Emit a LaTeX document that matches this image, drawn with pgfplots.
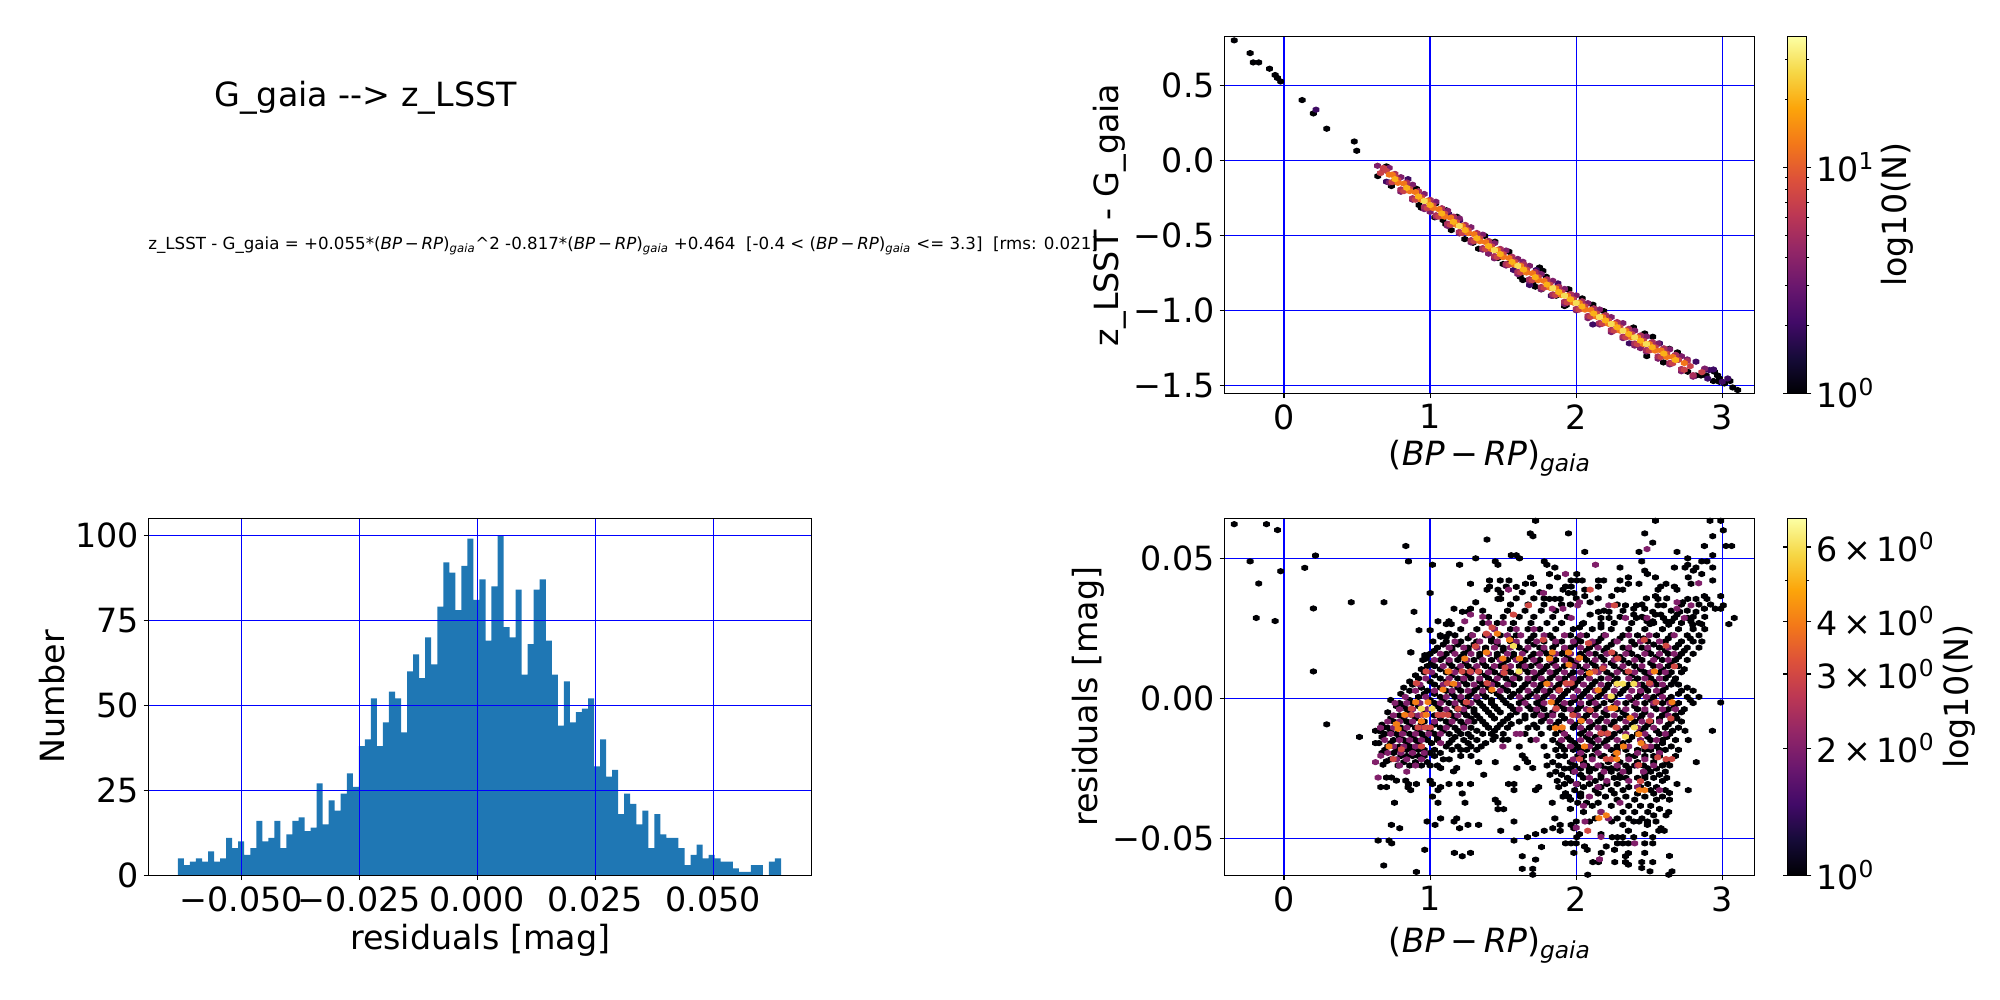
\documentclass[border=0pt]{standalone}
\usepackage{fontspec}
\setmainfont{DejaVu Sans}
\usepackage{pgfplots}
\pgfplotsset{compat=1.18}
\newcommand\bigf{\fontsize{24bp}{28bp}\selectfont}
\pgfdeclareplotmark{hex}{%
\pgfsetlinewidth{.7bp}\pgfsetroundjoin
\pgfpathmoveto{\pgfpoint{2.1bp}{-1bp}}\pgfpathlineto{\pgfpoint{2.1bp}{1bp}}\pgfpathlineto{\pgfpoint{0bp}{1.9bp}}%
\pgfpathlineto{\pgfpoint{-2.1bp}{1bp}}\pgfpathlineto{\pgfpoint{-2.1bp}{-1bp}}\pgfpathlineto{\pgfpoint{0bp}{-1.9bp}}%
\pgfpathclose\pgfusepathqfillstroke}
\pgfplotsset{
colormap={inferno}{rgb255=(0,0,4) rgb255=(22,11,57) rgb255=(66,10,104) rgb255=(106,23,110) rgb255=(147,38,103) rgb255=(188,55,84) rgb255=(221,81,58) rgb255=(243,120,25) rgb255=(252,165,10) rgb255=(246,215,70) rgb255=(252,255,164)},
common/.style={scale only axis,anchor=south west,axis on top,axis line style={line width=.8bp},
 tick align=outside,tick pos=left,major tick length=3.5bp,every tick/.style={line width=.8bp,black},
 grid=major,grid style={line width=1bp,blue},tick label style={font=\bigf},
 xticklabel style={yshift=-1bp}},
hexs/.style={scatter,only marks,mark=hex,scatter/use mapped color={draw=mapped color,fill=mapped color}},
}
\begin{document}
\begin{tikzpicture}
\useasboundingbox (0,0) rectangle (1440bp,720bp);
\node[anchor=base west,font=\bigf,inner sep=0] at (154.2bp,643.2bp) {G\_gaia -{}-> z\_LSST};
\node[anchor=base west,font=\fontsize{12bp}{14bp}\selectfont,inner sep=0] at (106.6bp,540.4bp) {z\_LSST - G\_gaia = +0.055*(\textit{BP}\,−\,\textit{RP})\textsubscript{\textit{gaia}}\textasciicircum 2 -0.817*(\textit{BP}\,−\,\textit{RP})\textsubscript{\textit{gaia}} +0.464\ \ [-0.4 < (\textit{BP}\,−\,\textit{RP})\textsubscript{\textit{gaia}} <= 3.3]\ \ [rms: 0.021]};
% histogram
\begin{axis}[common,at={(106.85bp,89.8bp)},width=477.7bp,height=257.04bp,xmin=-0.0697,xmax=0.07085,ymin=0,ymax=105,
 xtick={-0.05,-0.025,0,0.025,0.05},xticklabels={−0.050,−0.025,0.000,0.025,0.050},ytick={0,25,50,75,100},yticklabels={0,25,50,75,100},
 scaled x ticks=false,xlabel={residuals [mag]},ylabel={Number},
 every axis x label/.style={at={(axis description cs:0.5,-0.181)},anchor=center,font=\bigf},
 every axis y label/.style={at={(axis description cs:-0.1453,0.5)},anchor=center,rotate=90,font=\bigf}]
\addplot[ybar interval,draw=none,fill={rgb,255:red,31;green,119;blue,180}] table {
-0.06345 5
-0.06217 3
-0.06090 4
-0.05962 5
-0.05834 4
-0.05706 7
-0.05579 4
-0.05451 5
-0.05323 11
-0.05195 8
-0.05068 10
-0.04940 6
-0.04812 8
-0.04684 16
-0.04556 10
-0.04429 11
-0.04301 16
-0.04173 8
-0.04045 12
-0.03918 16
-0.03790 17
-0.03662 13
-0.03534 14
-0.03407 27
-0.03279 15
-0.03151 22
-0.03023 19
-0.02896 24
-0.02768 30
-0.02640 26
-0.02512 38
-0.02385 40
-0.02257 52
-0.02129 38
-0.02001 45
-0.01874 54
-0.01746 52
-0.01618 42
-0.01490 60
-0.01362 65
-0.01235 58
-0.01107 70
-0.00979 62
-0.00851 79
-0.00724 92
-0.00596 89
-0.00468 78
-0.00340 91
-0.00213 99
-0.00085 81
0.00043 87
0.00171 69
0.00298 85
0.00426 100
0.00554 73
0.00682 70
0.00809 84
0.00937 59
0.01065 68
0.01193 84
0.01320 87
0.01448 69
0.01576 59
0.01704 44
0.01832 57
0.01959 45
0.02087 48
0.02215 49
0.02343 52
0.02470 32
0.02598 40
0.02726 29
0.02854 31
0.02981 18
0.03109 24
0.03237 21
0.03365 15
0.03492 19
0.03620 8
0.03748 18
0.03876 12
0.04004 11
0.04131 11
0.04259 8
0.04387 3
0.04515 6
0.04642 9
0.04770 5
0.04898 6
0.05026 5
0.05153 4
0.05281 4
0.05409 2
0.05537 1
0.05664 1
0.05792 3
0.05920 3
0.06048 0
0.06175 4
0.06303 5
0.06431 5
};
\end{axis}
% top right
\begin{axis}[common,at={(881.7bp,436.8bp)},width=381.8bp,height=257.04bp,xmin=-0.4067,xmax=3.2229,ymin=-1.553,ymax=0.827,
 xtick={0,1,2,3},xticklabels={0,1,2,3},ytick={-1.5,-1,-0.5,0,0.5},yticklabels={−1.5,−1.0,−0.5,0.0,0.5},
 xlabel={(\textit{BP}\,−\,\textit{RP})\textsubscript{\textit{gaia}}},ylabel={z\_LSST - G\_gaia},
 every axis x label/.style={at={(axis description cs:0.5,-0.181)},anchor=center,font=\bigf},
 every axis y label/.style={at={(axis description cs:-0.2158,0.5)},anchor=center,rotate=90,font=\bigf},
 point meta min=0,point meta max=1.58,colormap name=inferno,colorbar,
 colorbar style={at={(1.0623,1)},anchor=north west,width=13.4bp,ytick={0,1},yticklabels={10\textsuperscript{0},10\textsuperscript{1}},
  minor ytick={0.301,0.477,0.602,0.699,0.778,0.845,0.903,0.954,1.301,1.477},tick align=outside,major tick length=3.5bp,minor tick length=2bp,
  yticklabel style={font=\bigf},ylabel={log10(N)},
  every axis y label/.style={at={(axis description cs:5.9,0.5)},anchor=center,rotate=90,font=\bigf},axis line style={line width=.8bp},every tick/.style={line width=.8bp,black},grid=none}]
\addplot[hexs,point meta=0] table {
-.341 .80
-.232 .715
-.211 .653
-.173 .653
-.099 .611
-.061 .569
-.044 .549
-.023 .526
.124 .402
.201 .313
.292 .211
.481 .126
.498 .064
.701 -.040
.642 -.105
.735 -.171
.906 -.189
.924 -.298
.940 -.316
1.038 -.287
1.032 -.380
1.111 -.333
1.088 -.398
1.107 -.425
1.184 -.376
1.145 -.465
1.237 -.525
1.294 -.549
1.373 -.503
1.332 -.589
1.444 -.542
1.540 -.609
1.464 -.651
1.499 -.691
1.533 -.691
1.617 -.776
1.635 -.798
1.704 -.820
1.720 -.842
1.749 -.714
1.772 -.736
1.795 -.776
1.761 -.860
1.863 -.902
1.943 -.860
1.931 -.965
1.950 -.860
2.041 -.920
2.114 -.962
2.189 -1.005
1.920 -.971
2.392 -1.114
2.469 -1.154
2.524 -1.176
2.483 -1.305
2.638 -1.256
2.693 -1.280
2.597 -1.347
2.763 -1.409
2.820 -1.434
2.854 -1.434
2.889 -1.434
2.946 -1.409
2.968 -1.434
2.980 -1.454
2.939 -1.471
2.980 -1.476
3.014 -1.487
3.053 -1.471
3.071 -1.514
3.105 -1.531
};
\addplot[hexs,point meta=0.301] table {
.219 .338
.849 -.125
.849 -.165
.701 -.142
1.127 -.358
1.202 -.400
1.875 -.820
1.829 -.902
1.571 -.731
1.726 -.731
1.681 -.831
2.114 -1.094
2.228 -1.049
2.364 -1.220
2.570 -1.220
2.820 -1.342
2.911 -1.398
2.939 -1.394
3.037 -1.454
3.000 -1.476
2.88 -1.394
2.90 -1.455
};
\addplot[hexs,point meta=0.55] table {
.64 -.036
.68 -.066
.72 -.148
.80 -.112
.88 -.262
.96 -.224
1.04 -.376
1.12 -.336
1.20 -.487
1.28 -.446
1.36 -.595
1.44 -.552
1.52 -.701
1.60 -.657
1.635 -.676
1.68 -.803
1.76 -.758
1.84 -.903
1.92 -.857
2.00 -1.000
2.08 -.952
2.16 -1.094
2.24 -1.045
2.32 -1.185
2.40 -1.135
2.48 -1.274
2.56 -1.222
2.64 -1.360
2.72 -1.306
2.80 -1.442
2.88 -1.388
1.00 -.343
1.40 -.622
2.44 -1.252
2.76 -1.327
.72 -.050
.88 -.162
1.04 -.276
1.20 -.387
1.36 -.495
1.52 -.601
1.68 -.703
1.84 -.803
2.00 -.900
2.16 -.994
2.32 -1.085
2.48 -1.174
2.64 -1.260
.80 -.209
.96 -.325
1.12 -.437
1.28 -.547
1.44 -.653
1.60 -.758
1.76 -.859
1.92 -.957
2.08 -1.052
2.24 -1.145
2.40 -1.235
2.56 -1.322
2.72 -1.406
};
\addplot[hexs,point meta=0.72] table {
.76 -.090
.84 -.148
.92 -.206
1.00 -.263
1.08 -.319
1.16 -.375
1.24 -.430
1.32 -.484
1.40 -.537
1.48 -.590
1.56 -.642
1.64 -.693
1.72 -.744
1.80 -.793
1.88 -.843
1.96 -.891
2.04 -.939
2.12 -.986
2.20 -1.032
2.28 -1.078
2.36 -1.123
2.44 -1.167
2.52 -1.211
2.60 -1.253
2.68 -1.296
2.76 -1.337
.80 -.194
.88 -.252
.96 -.310
1.04 -.366
1.12 -.422
1.20 -.477
1.28 -.532
1.36 -.585
1.44 -.638
1.52 -.691
1.60 -.743
1.68 -.793
1.76 -.844
1.84 -.893
1.92 -.942
2.00 -.990
2.08 -1.037
2.16 -1.084
2.24 -1.130
2.32 -1.175
2.40 -1.220
2.48 -1.264
2.56 -1.307
2.64 -1.350
2.72 -1.391
2.80 -1.432
};
\addplot[hexs,point meta=0.85] table {
.70 -.070
.78 -.130
.86 -.190
.94 -.245
1.02 -.300
1.10 -.355
1.18 -.411
1.26 -.465
1.34 -.519
1.42 -.572
1.50 -.624
1.58 -.676
1.66 -.728
1.74 -.778
1.82 -.828
1.90 -.878
1.98 -.925
2.06 -.973
2.14 -1.020
2.22 -1.067
2.30 -1.113
2.38 -1.157
2.46 -1.202
2.54 -1.245
2.62 -1.288
2.70 -1.330
2.78 -1.372
2.86 -1.412
2.74 -1.396
2.66 -1.353
2.58 -1.311
2.50 -1.268
2.42 -1.225
2.34 -1.180
2.26 -1.135
2.18 -1.089
2.10 -1.042
2.02 -.995
1.94 -.948
1.86 -.898
1.78 -.849
1.70 -.799
1.62 -.748
1.54 -.696
1.46 -.645
1.38 -.592
1.30 -.539
1.22 -.485
1.14 -.430
1.06 -.375
.98 -.320
.90 -.262
.82 -.205
.74 -.145
.66 -.085
.68 -.050
.76 -.110
};
\addplot[hexs,point meta=1.1] table {
.74 -.095
.82 -.155
.90 -.212
.98 -.270
1.06 -.326
1.14 -.382
1.22 -.437
1.30 -.492
1.38 -.545
1.46 -.598
1.54 -.651
1.62 -.703
1.70 -.753
1.78 -.804
1.86 -.853
1.94 -.902
2.02 -.950
2.10 -.997
2.18 -1.044
2.26 -1.090
2.34 -1.135
2.42 -1.180
2.50 -1.224
2.58 -1.267
2.66 -1.310
2.74 -1.351
.72 -.095
.78 -.150
.86 -.205
.94 -.262
1.02 -.318
1.10 -.375
1.18 -.430
1.26 -.485
1.34 -.539
1.42 -.592
1.50 -.645
1.58 -.696
1.66 -.748
1.74 -.799
1.82 -.849
1.90 -.898
1.98 -.948
2.06 -.995
2.14 -1.042
2.22 -1.089
2.30 -1.135
2.38 -1.180
2.46 -1.225
2.54 -1.268
2.62 -1.311
};
\addplot[hexs,point meta=1.3] table {
.76 -.125
.84 -.183
.92 -.241
1.00 -.298
1.08 -.354
1.16 -.410
1.24 -.465
1.32 -.519
1.40 -.572
1.48 -.625
1.56 -.677
1.64 -.728
1.72 -.779
1.80 -.828
1.88 -.878
1.96 -.926
2.04 -.974
2.12 -1.021
2.20 -1.067
2.28 -1.113
2.36 -1.158
2.44 -1.202
2.52 -1.246
2.60 -1.288
2.68 -1.331
};
\addplot[hexs,point meta=1.45] table {
.96 -.270
1.20 -.437
1.44 -.598
1.60 -.703
1.84 -.853
1.92 -.902
2.00 -.950
2.16 -1.044
2.24 -1.090
2.32 -1.135
2.40 -1.180
2.48 -1.224
};
\end{axis}
% bottom right
\begin{axis}[common,at={(881.7bp,89.8bp)},width=381.8bp,height=257.04bp,xmin=-0.4067,xmax=3.2229,ymin=-0.0632,ymax=0.0643,
 xtick={0,1,2,3},xticklabels={0,1,2,3},ytick={-0.05,0,0.05},yticklabels={−0.05,0.00,0.05},scaled y ticks=false,
 xlabel={(\textit{BP}\,−\,\textit{RP})\textsubscript{\textit{gaia}}},ylabel={residuals [mag]},
 every axis x label/.style={at={(axis description cs:0.5,-0.196)},anchor=center,font=\bigf},
 every axis y label/.style={at={(axis description cs:-0.257,0.5)},anchor=center,rotate=90,font=\bigf},
 point meta min=0,point meta max=0.846,colormap name=inferno,colorbar,
 colorbar style={at={(1.0623,1)},anchor=north west,width=13.4bp,ytick={0,0.301,0.477,0.602,0.778},
  yticklabels={10\textsuperscript{0},2\,×\,10\textsuperscript{0},3\,×\,10\textsuperscript{0},4\,×\,10\textsuperscript{0},6\,×\,10\textsuperscript{0}},
  minor ytick={0.699},tick align=outside,major tick length=3.5bp,minor tick length=2bp,
  yticklabel style={font=\bigf},ylabel={log10(N)},
  every axis y label/.style={at={(axis description cs:9.2,0.5)},anchor=center,rotate=90,font=\bigf},axis line style={line width=.8bp},every tick/.style={line width=.8bp,black},grid=none}]
\addplot[hexs,point meta=0] table {
-.341 .0622
-.120 .0622
-.044 .0601
-.232 .0489
.215 .0510
-.023 .0454
.142 .0466
-.173 .0410
-.190 .0287
-.061 .0276
.201 .0321
.460 .0343
.684 .0343
.201 .0096
.292 -.0093
.516 -.0138
.834 .0544
.852 .0489
.890 .0309
.869 .0164
1.000 .0376
1.389 .0567
1.016 .0477
1.202 .0477
1.312 .0500
1.446 .0489
1.464 .0477
1.555 .0511
1.590 .0511
1.612 .0500
1.685 .0589
1.704 .0579
1.722 .0634
1.277 .0409
1.407 .0421
1.687 .0432
1.653 .0409
1.708 .0409
1.407 .0399
1.389 .0388
1.464 .0388
1.521 .0399
1.483 .0376
1.483 .0355
1.464 .0355
1.312 .0343
1.163 .0320
1.221 .0309
1.259 .0309
1.277 .0320
1.054 .0275
1.111 .0265
1.129 .0275
1.145 .0265
.924 .0243
1.000 .0243
.867 .0164
.963 .0154
.981 .0154
.974 .0142
1.073 .0220
1.111 .0220
1.129 .0231
1.947 .0589
2.059 .0523
2.524 .0556
2.469 .0589
2.430 .0523
2.542 .0634
2.916 .0634
2.989 .0634
3.007 .0600
2.934 .0579
2.877 .0544
3.025 .0544
3.064 .0544
2.934 .0511
2.690 .0523
2.763 .0500
2.859 .0489
2.895 .0489
2.449 .0489
2.745 .0467
2.763 .0477
2.672 .0467
2.934 .0467
2.300 .0467
2.469 .0456
2.487 .0444
2.542 .0432
2.820 .0467
2.802 .0456
2.859 .0444
2.934 .0421
2.767 .0432
2.786 .0409
1.781 .0489
1.799 .0477
1.854 .0467
1.817 .0444
1.872 .0432
2.004 .0444
1.965 .0421
2.004 .0421
2.041 .0421
2.152 .0421
2.189 .0421
2.300 .0421
2.357 .0432
2.357 .0409
2.430 .0409
2.615 .0409
2.578 .0399
2.560 .0388
2.152 .0399
1.817 .0399
1.927 .0399
1.909 .0388
1.965 .0399
1.947 .0376
1.984 .0376
2.059 .0388
2.059 .0365
2.282 .0388
2.319 .0388
2.672 .0399
2.690 .0388
2.542 .0365
2.560 .0355
2.243 .0365
2.877 .0365
2.895 .0355
2.989 .0365
1.817 .0355
1.854 .0355
1.890 .0355
2.095 .0343
2.729 .0343
2.763 .0355
2.820 .0355
2.337 .0332
2.412 .0332
2.560 .0332
2.599 .0332
2.394 .0320
2.469 .0320
2.877 .0320
2.952 .0320
3.007 .0332
2.989 .0320
2.152 .0309
2.225 .0309
2.524 .0309
2.542 .0299
2.820 .0309
2.095 .0299
2.225 .0287
2.170 .0287
2.394 .0299
2.412 .0287
2.469 .0287
2.578 .0299
2.597 .0287
2.615 .0275
2.633 .0263
2.654 .0275
2.672 .0287
2.690 .0299
2.708 .0309
3.082 .0287
3.045 .0265
2.763 .0287
2.786 .0275
2.797 .0263
2.859 .0265
2.041 .0265
2.022 .0253
2.170 .0265
2.170 .0253
2.524 .0275
2.485 .0275
2.505 .0265
.626 -.0160
.626 -.0116
.662 -.0116
.681 -.0104
.678 -.0237
.701 -.0225
.769 -.0294
.701 -.0283
.735 -.0283
.662 -.0317
.701 -.0317
.833 -.0294
.851 -.0306
.867 -.0328
.849 -.0318
.906 -.0306
.756 -.0373
.735 -.0452
.792 -.0464
.644 -.0508
.719 -.0508
.737 -.0518
.963 -.0541
.906 -.0620
.683 -.0597
.979 -.0440
1.034 -.0452
1.072 -.0429
1.164 -.0440
1.182 -.0429
1.202 -.0464
1.259 -.0452
1.332 -.0452
1.166 -.0552
1.220 -.0564
1.277 -.0552
1.483 -.0473
1.574 -.0440
1.574 -.0508
1.667 -.0496
1.722 -.0485
1.631 -.0564
1.631 -.0609
1.703 -.0609
1.722 -.0576
1.703 -.0630
1.016 -.0351
1.054 -.0373
1.239 -.0373
1.220 -.0340
1.000 -.0294
1.016 -.0306
1.072 -.0317
1.054 -.0328
1.129 -.0306
1.202 -.0306
1.277 -.0306
1.072 -.0249
1.161 -.0261
1.182 -.0249
1.367 -.0273
1.332 -.0228
1.446 -.0228
1.594 -.0249
1.703 -.0249
1.537 -.0306
1.574 -.0306
1.574 -.0328
1.446 -.0362
1.464 -.0373
1.464 -.0396
1.503 -.0396
1.631 -.0204
1.649 -.0216
1.667 -.0228
1.722 -.0328
1.744 -.0317
1.350 -.0172
1.555 -.0092
1.430 -.0148
1.446 -.0137
1.533 -.0148
1.498 -.0148
2.989 -.0015
2.932 -.0116
2.767 -.0149
2.745 -.0116
2.822 -.0228
2.767 -.0328
2.690 -.0306
2.638 -.0338
2.638 -.0362
2.633 -.0406
2.615 -.0418
2.638 -.0563
2.656 -.0618
2.633 -.0630
1.763 -.0531
1.927 -.0518
1.965 -.0518
2.000 -.0518
1.984 -.0552
1.781 -.0473
1.840 -.0464
1.890 -.0452
1.890 -.0473
1.965 -.0452
1.984 -.0464
2.022 -.0485
2.004 -.0496
1.854 -.0429
1.836 -.0373
1.909 -.0351
1.947 -.0351
1.927 -.0339
2.114 -.0585
2.171 -.0552
2.264 -.0585
2.152 -.0585
2.057 -.0529
2.075 -.0541
2.205 -.0529
2.262 -.0541
2.337 -.0564
2.357 -.0553
2.337 -.0585
2.357 -.0594
2.449 -.0585
2.524 -.0585
2.469 -.0552
2.449 -.0606
2.505 -.0618
2.079 -.0630
2.282 -.0518
2.319 -.0518
2.357 -.0518
2.469 -.0518
2.524 -.0518
2.246 -.0496
2.282 -.0496
2.319 -.0496
2.394 -.0496
2.469 -.0485
2.524 -.0496
2.170 -.0485
2.357 -.0473
2.565 -.0473
2.603 -.0473
2.243 -.0440
2.319 -.0452
2.394 -.0440
2.430 -.0440
2.487 -.0440
2.487 -.0452
2.546 -.0440
2.580 -.0464
2.00 -.0440
2.09 -.0440
2.13 -.0429
2.28 -.0429
2.36 -.0429
2.45 -.0429
2.53 -.0418
2.05 -.0406
2.17 -.0406
2.32 -.0406
2.40 -.0406
2.49 -.0406
2.57 -.0395
1.96 -.0395
2.11 -.0384
2.24 -.0384
2.36 -.0384
2.44 -.0384
2.51 -.0384
2.01 -.0373
2.07 -.0373
2.15 -.0373
2.28 -.0362
2.40 -.0362
2.55 -.0362
1.96 -.0362
2.03 -.0351
2.20 -.0351
2.34 -.0351
2.47 -.0351
2.59 -.0351
1.99 -.0328
2.13 -.0328
2.24 -.0328
2.32 -.0328
2.51 -.0328
2.61 -.0328
1.88 -.0317
2.05 -.0317
2.17 -.0317
2.36 -.0317
2.44 -.0317
2.55 -.0317
1.92 -.0306
2.01 -.0306
2.09 -.0306
2.21 -.0306
2.28 -.0306
2.49 -.0306
2.59 -.0295
1.87 -.0295
1.96 -.0295
2.13 -.0295
2.26 -.0284
2.34 -.0284
2.42 -.0284
2.53 -.0284
2.62 -.0284
1.82 -.0273
1.90 -.0273
2.03 -.0273
2.17 -.0273
2.30 -.0273
2.47 -.0273
2.57 -.0273
1.86 -.0262
1.98 -.0262
2.09 -.0262
2.24 -.0262
2.36 -.0262
2.51 -.0262
2.61 -.0262
1.92 -.0251
2.03 -.0251
2.13 -.0251
2.20 -.0251
2.28 -.0251
2.40 -.0240
2.55 -.0251
2.64 -.0240
1.80 -.0240
1.88 -.0240
1.99 -.0240
2.07 -.0240
2.17 -.0240
2.34 -.0240
2.46 -.0240
2.59 -.0240
.78 -.0240
.86 -.0240
.94 -.0240
1.00 -.0240
1.05 -.0240
.82 -.0228
.90 -.0228
.98 -.0228
1.09 -.0218
1.13 -.0218
1.84 -.0228
1.96 -.0228
2.05 -.0228
2.22 -.0228
2.30 -.0228
2.42 -.0228
2.53 -.0228
2.62 -.0228
.73 -.0218
.80 -.0206
.88 -.0206
.96 -.0206
1.03 -.0206
1.21 -.0206
1.28 -.0206
1.80 -.0206
1.92 -.0206
2.01 -.0206
2.11 -.0206
2.19 -.0206
2.36 -.0206
2.47 -.0206
2.57 -.0206
2.68 -.0206
.67 -.0195
.75 -.0195
.84 -.0184
.92 -.0184
1.00 -.0195
1.07 -.0195
1.15 -.0184
1.25 -.0184
1.32 -.0184
1.86 -.0184
1.98 -.0184
2.07 -.0184
2.24 -.0184
2.34 -.0184
2.42 -.0184
2.51 -.0184
2.61 -.0184
2.70 -.0184
.71 -.0172
.79 -.0172
.86 -.0172
.94 -.0172
1.11 -.0172
1.19 -.0172
1.28 -.0172
1.38 -.0160
1.61 -.0172
1.78 -.0172
1.90 -.0172
2.01 -.0172
2.15 -.0172
2.28 -.0172
2.47 -.0172
2.55 -.0172
2.65 -.0172
.65 -.0160
.75 -.0149
.82 -.0149
.90 -.0149
.98 -.0149
1.05 -.0149
1.15 -.0149
1.23 -.0149
1.32 -.0149
1.69 -.0149
1.84 -.0149
1.96 -.0149
2.09 -.0149
2.21 -.0149
2.36 -.0149
2.51 -.0149
2.59 -.0149
2.68 -.0149
.69 -.0127
.77 -.0127
.86 -.0127
.94 -.0127
1.03 -.0127
1.13 -.0127
1.21 -.0127
1.26 -.0127
1.36 -.0127
1.42 -.0127
1.50 -.0127
1.65 -.0127
1.76 -.0127
1.86 -.0127
2.03 -.0127
2.17 -.0127
2.26 -.0127
2.42 -.0127
2.57 -.0127
2.64 -.0127
.71 -.0105
.80 -.0105
.90 -.0105
.98 -.0105
1.07 -.0105
1.17 -.0105
1.28 -.0105
1.40 -.0105
1.46 -.0105
1.53 -.0105
1.67 -.0105
1.73 -.0105
1.82 -.0105
1.98 -.0105
2.09 -.0105
2.19 -.0105
2.34 -.0105
2.47 -.0105
2.61 -.0105
2.70 -.0105
.75 -.0083
.84 -.0083
.96 -.0083
1.11 -.0083
1.21 -.0083
1.30 -.0083
1.36 -.0083
1.50 -.0083
1.61 -.0083
1.76 -.0083
1.88 -.0083
2.03 -.0083
2.15 -.0083
2.26 -.0083
2.40 -.0083
2.51 -.0083
2.65 -.0083
2.72 -.0083
.79 -.0061
.88 -.0061
1.03 -.0061
1.15 -.0061
1.25 -.0061
1.32 -.0061
1.42 -.0061
1.55 -.0061
1.65 -.0061
1.71 -.0061
1.80 -.0061
1.90 -.0061
2.07 -.0061
2.21 -.0061
2.34 -.0061
2.45 -.0061
2.59 -.0061
2.68 -.0061
.84 -.0039
1.07 -.0039
1.19 -.0039
1.30 -.0039
1.38 -.0039
1.46 -.0039
1.57 -.0039
1.69 -.0039
1.78 -.0039
1.92 -.0039
2.01 -.0039
2.13 -.0039
2.28 -.0039
2.42 -.0039
2.55 -.0039
2.63 -.0039
2.74 -.0039
.79 -.0017
.88 -.0017
1.03 -.0017
1.13 -.0017
1.23 -.0017
1.34 -.0017
1.42 -.0017
1.52 -.0017
1.61 -.0017
1.73 -.0017
1.86 -.0017
1.96 -.0017
2.09 -.0017
2.19 -.0017
2.34 -.0017
2.47 -.0017
2.59 -.0017
2.70 -.0017
2.80 -.0017
.92 .0005
1.07 .0005
1.17 .0005
1.26 .0005
1.38 .0005
1.48 .0005
1.55 .0005
1.67 .0005
1.78 .0005
1.90 .0005
2.03 .0005
2.15 .0005
2.26 .0005
2.42 .0005
2.53 .0005
2.65 .0005
2.76 .0005
2.84 .0005
.86 .0027
.98 .0027
1.11 .0027
1.21 .0027
1.30 .0027
1.42 .0027
1.53 .0027
1.61 .0027
1.73 .0027
1.82 .0027
1.94 .0027
2.07 .0027
2.19 .0027
2.32 .0027
2.49 .0027
2.59 .0027
2.72 .0027
2.80 .0027
.88 .0049
1.03 .0049
1.15 .0049
1.25 .0049
1.36 .0049
1.46 .0049
1.57 .0049
1.65 .0049
1.76 .0049
1.88 .0049
1.99 .0049
2.11 .0049
2.22 .0049
2.36 .0049
2.45 .0049
2.55 .0049
2.65 .0049
2.70 .0049
.92 .0071
1.07 .0071
1.19 .0071
1.28 .0071
1.40 .0071
1.52 .0071
1.61 .0071
1.71 .0071
1.82 .0071
1.92 .0071
2.03 .0071
2.17 .0071
2.28 .0071
2.42 .0071
2.51 .0071
2.61 .0071
2.68 .0071
.96 .0093
1.11 .0093
1.23 .0093
1.34 .0093
1.44 .0093
1.55 .0093
1.67 .0093
1.76 .0093
1.86 .0093
1.98 .0093
2.09 .0093
2.21 .0093
2.34 .0093
2.47 .0093
2.57 .0093
2.65 .0093
2.72 .0093
.98 .0115
1.03 .0115
1.15 .0115
1.26 .0115
1.38 .0115
1.48 .0115
1.61 .0115
1.69 .0115
1.80 .0115
1.92 .0115
2.01 .0115
2.13 .0115
2.26 .0115
2.40 .0115
2.53 .0115
2.63 .0115
2.70 .0115
.95 .0137
1.07 .0137
1.19 .0137
1.30 .0137
1.42 .0137
1.53 .0137
1.65 .0137
1.75 .0137
1.86 .0137
1.96 .0137
2.07 .0137
2.19 .0137
2.32 .0137
2.45 .0137
2.59 .0137
2.68 .0137
2.76 .0137
1.00 .0159
1.11 .0159
1.23 .0159
1.34 .0159
1.46 .0159
1.57 .0159
1.71 .0159
1.80 .0159
1.90 .0159
2.03 .0159
2.13 .0159
2.26 .0159
2.38 .0159
2.51 .0159
2.63 .0159
2.72 .0159
2.80 .0159
1.05 .0181
1.15 .0181
1.26 .0181
1.38 .0181
1.50 .0181
1.61 .0181
1.75 .0181
1.84 .0181
1.96 .0181
2.09 .0181
2.21 .0181
2.32 .0181
2.45 .0181
2.57 .0181
2.68 .0181
2.76 .0181
2.84 .0181
1.02 .0203
1.11 .0203
1.21 .0203
1.32 .0203
1.42 .0203
1.55 .0203
1.67 .0203
1.78 .0203
1.90 .0203
2.03 .0203
2.15 .0203
2.26 .0203
2.38 .0203
2.49 .0203
2.61 .0203
2.72 .0203
2.80 .0203
2.86 .0203
1.07 .0225
1.17 .0225
1.28 .0225
1.38 .0225
1.48 .0225
1.59 .0225
1.71 .0225
1.82 .0225
1.96 .0225
2.07 .0225
2.19 .0225
2.32 .0225
2.42 .0225
2.55 .0225
2.65 .0225
2.76 .0225
2.84 .0225
1.21 .0247
1.32 .0247
1.44 .0247
1.55 .0247
1.67 .0247
1.75 .0247
1.86 .0247
1.98 .0247
2.11 .0247
2.24 .0247
2.36 .0247
2.47 .0247
2.59 .0247
2.70 .0247
2.80 .0247
2.88 .0247
1.36 .0269
1.46 .0269
1.57 .0269
1.69 .0269
1.80 .0269
1.90 .0269
2.05 .0269
2.26 .0269
2.38 .0269
2.53 .0269
2.72 .0269
2.84 .0269
1.40 .0291
1.50 .0291
1.61 .0291
1.71 .0291
1.84 .0291
1.94 .0291
2.30 .0291
2.45 .0291
2.80 .0291
2.88 .0291
1.36 .0313
1.53 .0313
1.65 .0313
1.76 .0313
1.86 .0313
2.19 .0313
2.32 .0313
2.65 .0313
2.76 .0313
1.55 .0335
1.67 .0335
1.78 .0335
1.90 .0335
1.96 .0335
2.28 .0335
2.45 .0335
2.72 .0335
2.84 .0335
2.92 .0335
1.59 .0357
1.71 .0357
1.78 .0357
2.00 .0357
2.15 .0357
2.48 .0357
2.62 .0357
1.63 .0379
1.75 .0379
1.59 .0398
1.54 .0421
1.48 .0421
1.26 .0214
1.42 .0214
1.55 .0214
1.69 .0214
1.84 .0214
2.01 .0214
2.17 .0214
2.30 .0214
2.46 .0214
2.63 .0214
2.78 .0214
1.09 .0192
1.19 .0192
1.30 .0192
1.46 .0192
1.59 .0192
1.71 .0192
1.86 .0192
1.99 .0192
2.13 .0192
2.24 .0192
2.40 .0192
2.53 .0192
2.70 .0192
1.03 .0170
1.15 .0170
1.26 .0170
1.38 .0170
1.50 .0170
1.65 .0170
1.78 .0170
1.92 .0170
2.07 .0170
2.19 .0170
2.36 .0170
2.49 .0170
2.61 .0170
2.74 .0170
1.09 .0148
1.21 .0148
1.34 .0148
1.46 .0148
1.57 .0148
1.69 .0148
1.82 .0148
1.94 .0148
2.05 .0148
2.17 .0148
2.30 .0148
2.42 .0148
2.55 .0148
2.70 .0148
1.01 .0126
1.13 .0126
1.24 .0126
1.36 .0126
1.50 .0126
1.63 .0126
1.73 .0126
1.84 .0126
1.99 .0126
2.11 .0126
2.24 .0126
2.36 .0126
2.51 .0126
2.65 .0126
.94 .0104
1.07 .0104
1.19 .0104
1.30 .0104
1.42 .0104
1.53 .0104
1.65 .0104
1.78 .0104
1.88 .0104
2.05 .0104
2.17 .0104
2.30 .0104
2.44 .0104
2.59 .0104
2.74 .0104
.90 .0082
1.03 .0082
1.15 .0082
1.26 .0082
1.38 .0082
1.48 .0082
1.59 .0082
1.73 .0082
1.84 .0082
1.96 .0082
2.07 .0082
2.24 .0082
2.38 .0082
2.49 .0082
2.63 .0082
.86 .0060
1.00 .0060
1.11 .0060
1.23 .0060
1.34 .0060
1.44 .0060
1.55 .0060
1.67 .0060
1.78 .0060
1.90 .0060
2.01 .0060
2.13 .0060
2.26 .0060
2.40 .0060
2.53 .0060
2.67 .0060
.82 .0038
.94 .0038
1.07 .0038
1.19 .0038
1.32 .0038
1.40 .0038
1.50 .0038
1.63 .0038
1.75 .0038
1.86 .0038
1.98 .0038
2.09 .0038
2.21 .0038
2.34 .0038
2.47 .0038
2.61 .0038
2.76 .0038
.80 .0016
.96 .0016
1.03 .0016
1.15 .0016
1.28 .0016
1.36 .0016
1.46 .0016
1.57 .0016
1.69 .0016
1.80 .0016
1.92 .0016
2.05 .0016
2.17 .0016
2.30 .0016
2.44 .0016
2.57 .0016
2.70 .0016
.73 -.0006
.86 -.0006
1.00 -.0006
1.09 -.0006
1.21 -.0006
1.32 -.0006
1.42 -.0006
1.50 -.0006
1.63 -.0006
1.75 -.0006
1.88 -.0006
1.99 -.0006
2.11 -.0006
2.24 -.0006
2.38 -.0006
2.51 -.0006
2.63 -.0006
2.78 -.0006
.77 -.0028
.82 -.0028
.92 -.0028
1.05 -.0028
1.17 -.0028
1.26 -.0028
1.36 -.0028
1.44 -.0028
1.55 -.0028
1.67 -.0028
1.76 -.0028
1.90 -.0028
2.03 -.0028
2.15 -.0028
2.26 -.0028
2.40 -.0028
2.53 -.0028
2.67 -.0028
.71 -.0050
.86 -.0050
.96 -.0050
1.13 -.0050
1.23 -.0050
1.30 -.0050
1.40 -.0050
1.48 -.0050
1.59 -.0050
1.73 -.0050
1.84 -.0050
1.98 -.0050
2.09 -.0050
2.19 -.0050
2.32 -.0050
2.47 -.0050
2.61 -.0050
2.72 -.0050
.73 -.0072
.82 -.0072
.90 -.0072
1.07 -.0072
1.17 -.0072
1.28 -.0072
1.34 -.0072
1.44 -.0072
1.53 -.0072
1.65 -.0072
1.78 -.0072
1.92 -.0072
2.05 -.0072
2.17 -.0072
2.30 -.0072
2.44 -.0072
2.57 -.0072
2.69 -.0072
.67 -.0094
.77 -.0094
.86 -.0094
.94 -.0094
1.03 -.0094
1.13 -.0094
1.23 -.0094
1.38 -.0094
1.48 -.0094
1.71 -.0094
1.86 -.0094
1.99 -.0094
2.11 -.0094
2.24 -.0094
2.38 -.0094
2.49 -.0094
2.63 -.0094
.65 -.0116
.73 -.0116
.82 -.0116
.92 -.0116
1.00 -.0116
1.09 -.0116
1.19 -.0116
1.32 -.0116
1.44 -.0116
1.90 -.0116
2.05 -.0116
2.19 -.0116
2.30 -.0116
2.44 -.0116
2.55 -.0116
2.66 -.0116
.67 -.0138
.79 -.0138
.88 -.0138
.96 -.0138
1.05 -.0138
1.17 -.0138
1.28 -.0138
1.94 -.0138
2.07 -.0138
2.13 -.0138
2.24 -.0138
2.38 -.0138
2.49 -.0138
2.62 -.0138
.73 -.0160
.84 -.0160
.92 -.0160
1.01 -.0160
1.13 -.0160
1.26 -.0160
1.88 -.0160
1.99 -.0160
2.11 -.0160
2.19 -.0160
2.32 -.0160
2.45 -.0160
2.59 -.0160
.69 -.0184
.77 -.0184
.88 -.0184
.96 -.0184
1.03 -.0184
1.21 -.0184
1.92 -.0184
2.03 -.0184
2.13 -.0184
2.28 -.0184
2.47 -.0184
2.57 -.0184
.84 -.0206
.92 -.0206
1.88 -.0206
2.05 -.0206
2.17 -.0206
2.26 -.0206
2.40 -.0206
2.53 -.0206
1.96 -.0250
2.09 -.0250
2.24 -.0250
2.36 -.0250
2.49 -.0250
1.94 -.0284
2.05 -.0284
2.17 -.0284
2.30 -.0284
2.47 -.0284
2.03 -.0340
2.15 -.0340
2.26 -.0340
2.42 -.0340
2.53 -.0340
};
\addplot[hexs,point meta=0.301] table {
1.537 .0388
1.277 .0299
1.237 .0275
2.132 .0477
2.485 .0533
2.838 .0411
1.927 .0444
1.776 .0376
2.022 .0343
2.01 .0332
1.836 .0320
1.909 .0320
1.965 .0287
2.223 .0332
2.690 .0343
2.690 .0320
2.786 .0332
2.337 .0287
2.740 .0287
2.485 .0287
1.072 -.0160
1.498 -.0172
1.726 -.0148
.662 -.0205
.626 -.0228
.644 -.0283
1.589 -.0127
1.617 -.0127
1.36 .0291
1.40 .0269
1.50 .0269
1.44 .0247
1.59 .0247
1.71 .0247
1.29 .0225
1.40 .0225
1.53 .0225
1.62 .0225
1.78 .0225
1.92 .0225
2.03 .0225
2.20 .0225
2.36 .0225
2.50 .0225
2.67 .0225
1.17 .0203
1.34 .0203
1.46 .0203
1.59 .0203
1.73 .0203
1.86 .0203
1.98 .0203
2.11 .0203
2.28 .0203
2.44 .0203
2.57 .0203
1.13 .0181
1.23 .0181
1.32 .0181
1.44 .0181
1.55 .0181
1.67 .0181
1.78 .0181
1.92 .0181
2.03 .0181
2.15 .0181
2.36 .0181
2.49 .0181
2.63 .0181
1.07 .0159
1.17 .0159
1.28 .0159
1.40 .0159
1.53 .0159
1.63 .0159
1.75 .0159
1.86 .0159
1.96 .0159
2.09 .0159
2.21 .0159
2.34 .0159
2.47 .0159
2.57 .0159
2.67 .0159
1.03 .0137
1.13 .0137
1.25 .0137
1.36 .0137
1.48 .0137
1.59 .0137
1.71 .0137
1.82 .0137
1.92 .0137
2.01 .0137
2.13 .0137
2.26 .0137
2.40 .0137
2.53 .0137
2.63 .0137
1.09 .0115
1.21 .0115
1.32 .0115
1.44 .0115
1.55 .0115
1.65 .0115
1.75 .0115
1.86 .0115
1.98 .0115
2.07 .0115
2.19 .0115
2.32 .0115
2.45 .0115
2.57 .0115
1.01 .0093
1.17 .0093
1.28 .0093
1.40 .0093
1.50 .0093
1.61 .0093
1.71 .0093
1.82 .0093
1.92 .0093
2.03 .0093
2.15 .0093
2.28 .0093
2.40 .0093
2.51 .0093
2.61 .0093
.97 .0071
1.13 .0071
1.23 .0071
1.34 .0071
1.46 .0071
1.57 .0071
1.67 .0071
1.76 .0071
1.88 .0071
1.98 .0071
2.09 .0071
2.22 .0071
2.36 .0071
2.47 .0071
2.57 .0071
.93 .0049
1.09 .0049
1.19 .0049
1.30 .0049
1.42 .0049
1.53 .0049
1.71 .0049
1.82 .0049
1.94 .0049
2.05 .0049
2.17 .0049
2.28 .0049
2.42 .0049
2.51 .0049
2.59 .0049
.90 .0027
1.03 .0027
1.15 .0027
1.26 .0027
1.36 .0027
1.48 .0027
1.67 .0027
1.78 .0027
1.88 .0027
2.01 .0027
2.13 .0027
2.26 .0027
2.38 .0027
2.44 .0027
2.55 .0027
.83 .0005
.97 .0005
1.11 .0005
1.21 .0005
1.32 .0005
1.61 .0005
1.73 .0005
1.84 .0005
1.98 .0005
2.09 .0005
2.21 .0005
2.36 .0005
2.48 .0005
2.59 .0005
.76 -.0017
.84 -.0017
.93 -.0017
1.07 -.0017
1.17 -.0017
1.28 -.0017
1.65 -.0017
1.78 -.0017
1.92 -.0017
2.03 -.0017
2.13 -.0017
2.28 -.0017
2.41 -.0017
2.53 -.0017
2.64 -.0017
.79 -.0039
.88 -.0039
.98 -.0039
1.11 -.0039
1.23 -.0039
1.61 -.0039
1.73 -.0039
1.86 -.0039
1.96 -.0039
2.07 -.0039
2.21 -.0039
2.34 -.0039
2.47 -.0039
2.59 -.0039
2.68 -.0039
.75 -.0061
.83 -.0061
.92 -.0061
1.07 -.0061
1.19 -.0061
1.76 -.0061
1.84 -.0061
2.01 -.0061
2.13 -.0061
2.26 -.0061
2.40 -.0061
2.51 -.0061
2.63 -.0061
.71 -.0083
.79 -.0083
.88 -.0083
1.03 -.0083
1.15 -.0083
1.26 -.0083
1.82 -.0083
1.96 -.0083
2.09 -.0083
2.21 -.0083
2.34 -.0083
2.45 -.0083
2.57 -.0083
.66 -.0105
.75 -.0105
.84 -.0105
.94 -.0105
1.11 -.0105
1.23 -.0105
1.90 -.0105
2.03 -.0105
2.15 -.0105
2.28 -.0105
2.42 -.0105
2.53 -.0105
.73 -.0127
.81 -.0127
.90 -.0127
.99 -.0127
1.07 -.0127
1.92 -.0127
2.09 -.0127
2.21 -.0127
2.34 -.0127
2.47 -.0127
2.61 -.0127
.69 -.0149
.79 -.0149
.86 -.0149
.94 -.0149
1.90 -.0149
2.03 -.0149
2.15 -.0149
2.28 -.0149
2.44 -.0149
2.55 -.0149
.75 -.0172
.82 -.0172
.90 -.0172
1.96 -.0172
2.09 -.0172
2.21 -.0172
2.36 -.0172
2.51 -.0172
.71 -.0195
.80 -.0195
.88 -.0195
.96 -.0195
2.03 -.0195
2.15 -.0195
2.28 -.0195
2.42 -.0195
2.57 -.0195
.77 -.0218
.84 -.0218
.94 -.0218
1.98 -.0218
2.11 -.0218
2.24 -.0218
2.36 -.0218
2.47 -.0218
.79 -.0240
.90 -.0240
2.05 -.0240
2.15 -.0240
2.28 -.0240
2.42 -.0240
2.53 -.0240
.84 -.0262
1.99 -.0262
2.19 -.0262
2.32 -.0262
2.46 -.0262
2.09 -.0284
2.21 -.0295
2.36 -.0295
2.00 -.0306
2.15 -.0317
2.42 -.0317
2.57 -.0328
2.09 -.0351
2.30 -.0373
2.05 -.0384
2.17 -.0406
2.22 -.0429
2.06 -.0440
2.00 -.0462
2.17 -.0495
2.40 -.0518
2.16 -.0575
};
\addplot[hexs,point meta=0.477] table {
2.095 .0388
2.262 .0332
2.084 .0197
2.466 .0209
2.614 .0188
2.243 .0164
2.285 .0142
2.357 .0096
1.965 .0054
1.931 .0054
1.885 .0030
2.501 .0054
2.672 .0114
1.774 .0209
2.182 .0107
2.125 .0096
1.423 .0253
1.310 .0186
1.218 .0096
1.274 .0096
1.331 .0096
1.130 .0096
1.390 .0054
1.120 .0054
1.513 .0110
1.507 .0091
1.674 .0332
1.570 .0299
1.385 .0231
.906 .0054
.972 .0096
.871 -.0037
.871 -.0059
1.088 -.0059
1.122 -.0059
1.054 -.0059
.951 -.0059
1.000 -.0104
.965 -.0104
.917 -.0104
.747 -.0217
.940 -.0172
.803 -.0182
1.248 -.0014
1.191 -.0037
2.079 -.0473
2.615 -.0217
2.654 -.0217
2.558 -.0211
2.095 -.0042
1.863 -.0036
1.977 -.0060
2.273 -.0104
2.170 -.0125
2.216 -.0125
2.205 -.0217
2.239 -.0217
2.022 -.0217
2.428 -.0238
2.471 -.0172
2.501 -.0081
2.546 -.0014
2.648 -.0072
2.44 -.0296
};
\addplot[hexs,point meta=0.602] table {
2.433 -.0328
2.469 -.0328
2.155 -.0428
2.205 -.0418
2.057 -.0172
2.034 -.0080
2.262 -.0035
2.239 -.0035
1.829 -.0014
1.858 -.0106
1.904 -.0104
2.323 -.0172
2.278 -.0195
2.278 -.0217
2.444 -.0160
2.428 -.0128
2.369 -.0070
2.656 -.0014
1.836 .0164
1.947 .0164
1.817 .0142
1.799 .0052
1.950 .0120
2.535 .0096
2.091 .0090
2.022 .0144
1.460 .0231
1.544 .0209
1.385 .0164
1.237 .0142
1.122 .0096
1.161 .0052
1.088 .0031
1.423 .0031
1.612 .0142
1.498 .0142
.901 -.0014
.986 -.0014
.826 -.0059
.940 -.0082
.769 -.0092
.781 -.0109
.719 -.0172
.974 -.0059
2.15 .0029
};
\addplot[hexs,point meta=0.778] table {
2.239 .0007
2.280 .0052
2.319 .0052
2.394 .0052
1.571 .0187
1.608 .0096
.940 -.0037
1.013 -.0037
2.398 -.0104
2.337 -.0137
};
\end{axis}
\end{tikzpicture}
\end{document}
